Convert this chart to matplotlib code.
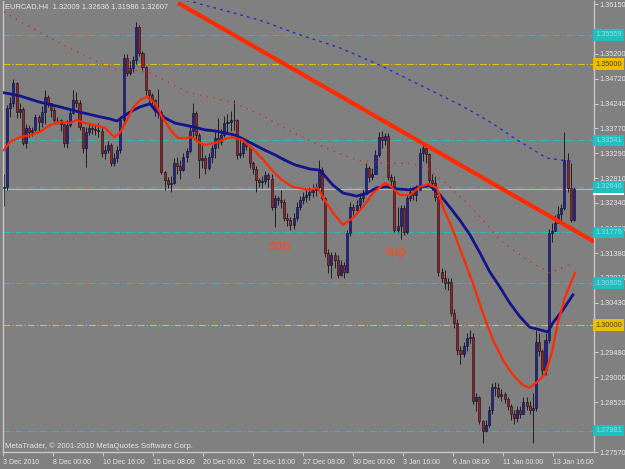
import matplotlib
matplotlib.use('Agg')
import matplotlib.pyplot as plt
import numpy as np

plt.rcParams['font.family'] = ['Liberation Sans', 'DejaVu Sans']

# EURCAD H4 candles
first_open = 1.3262
closes = [1.3265, 1.3415, 1.3425, 1.3464, 1.3408, 1.3413, 1.3349, 1.3378, 1.3370, 1.3374,
          1.3399, 1.3389, 1.3408, 1.3437, 1.3425, 1.3412, 1.3393, 1.3393, 1.3385, 1.3349,
          1.3383, 1.3406, 1.3431, 1.3425, 1.3379, 1.3339, 1.3370, 1.3378, 1.3376, 1.3374,
          1.3372, 1.3330, 1.3335, 1.3345, 1.3311, 1.3320, 1.3335, 1.3393, 1.3512, 1.3483,
          1.3492, 1.3508, 1.3571, 1.3521, 1.3494, 1.3450, 1.3441, 1.3431, 1.3410, 1.3408,
          1.3293, 1.3278, 1.3270, 1.3272, 1.3311, 1.3305, 1.3298, 1.3322, 1.3333, 1.3372,
          1.3406, 1.3364, 1.3316, 1.3320, 1.3301, 1.3322, 1.3339, 1.3358, 1.3350, 1.3364,
          1.3387, 1.3389, 1.3393, 1.3393, 1.3326, 1.3330, 1.3349, 1.3343, 1.3311, 1.3299,
          1.3278, 1.3274, 1.3276, 1.3288, 1.3280, 1.3226, 1.3243, 1.3240, 1.3236, 1.3205,
          1.3201, 1.3192, 1.3205, 1.3226, 1.3240, 1.3245, 1.3249, 1.3255, 1.3258, 1.3265,
          1.3297, 1.3244, 1.3138, 1.3115, 1.3134, 1.3125, 1.3096, 1.3115, 1.3102, 1.3176,
          1.3226, 1.3220, 1.3230, 1.3243, 1.3252, 1.3301, 1.3284, 1.3290, 1.3326, 1.3360,
          1.3355, 1.3362, 1.3284, 1.3276, 1.3182, 1.3190, 1.3224, 1.3178, 1.3243, 1.3255,
          1.3250, 1.3258, 1.3330, 1.3340, 1.3328, 1.3278, 1.3272, 1.3245, 1.3102, 1.3090,
          1.3080, 1.3082, 1.3023, 1.3005, 1.2952, 1.2945, 1.2960, 1.2975, 1.2978, 1.2855,
          1.2862, 1.2816, 1.2797, 1.2808, 1.2838, 1.2882, 1.2880, 1.2864, 1.2868, 1.2858,
          1.2845, 1.2830, 1.2822, 1.2838, 1.2830, 1.2853, 1.2845, 1.2838, 1.2842, 1.2968,
          1.2950, 1.2914, 1.2972, 1.3176, 1.3180, 1.3195, 1.3212, 1.3224, 1.3316, 1.3263,
          1.32009, 1.32607]
highs = [1.3289, 1.3422, 1.3437, 1.3471, 1.3466, 1.3425, 1.3418, 1.3385, 1.3384, 1.3380,
         1.3405, 1.3403, 1.3420, 1.3450, 1.3440, 1.3425, 1.3418, 1.3399, 1.3395, 1.3385,
         1.3393, 1.3412, 1.3450, 1.3446, 1.3431, 1.3380, 1.3380, 1.3386, 1.3384, 1.3386,
         1.3388, 1.3380, 1.3345, 1.3352, 1.3348, 1.3330, 1.3343, 1.3400, 1.3520, 1.3520,
         1.3505, 1.3515, 1.3580, 1.3575, 1.3525, 1.3497, 1.3452, 1.3445, 1.3433, 1.3452,
         1.3412, 1.3295, 1.3283, 1.3285, 1.3320, 1.3322, 1.3316, 1.3330, 1.3340, 1.3380,
         1.3425, 1.3410, 1.3368, 1.3345, 1.3325, 1.3330, 1.3345, 1.3370, 1.3397, 1.3375,
         1.3400, 1.3405, 1.3410, 1.3431, 1.3395, 1.3360, 1.3358, 1.3355, 1.3345, 1.3315,
         1.3305, 1.3282, 1.3285, 1.3295, 1.3292, 1.3290, 1.3250, 1.3248, 1.3258, 1.3242,
         1.3215, 1.3208, 1.3215, 1.3235, 1.3248, 1.3255, 1.3260, 1.3265, 1.3270, 1.3272,
         1.3316, 1.3303, 1.3246, 1.3145, 1.3140, 1.3140, 1.3135, 1.3125, 1.3120, 1.3182,
         1.3236, 1.3232, 1.3240, 1.3250, 1.3260, 1.3310, 1.3305, 1.3300, 1.3335, 1.3370,
         1.3372, 1.3368, 1.3368, 1.3290, 1.3285, 1.3226, 1.3230, 1.3230, 1.3250, 1.3265,
         1.3262, 1.3268, 1.3340, 1.3350, 1.3340, 1.3330, 1.3290, 1.3285, 1.3250, 1.3110,
         1.3105, 1.3090, 1.3090, 1.3030, 1.3012, 1.2960, 1.2968, 1.2985, 1.2990, 1.2985,
         1.2870, 1.2865, 1.2818, 1.2818, 1.2845, 1.2890, 1.2892, 1.2890, 1.2878, 1.2872,
         1.2862, 1.2848, 1.2838, 1.2845, 1.2845, 1.2862, 1.2862, 1.2855, 1.2870, 1.2990,
         1.2985, 1.2955, 1.2985, 1.3185, 1.3195, 1.3210, 1.3228, 1.3232, 1.3370, 1.3330,
         1.3310, 1.32636]
lows = [1.3228, 1.3259, 1.3399, 1.3418, 1.3397, 1.3397, 1.3345, 1.3340, 1.3360, 1.3363,
        1.3372, 1.3370, 1.3380, 1.3385, 1.3418, 1.3399, 1.3390, 1.3385, 1.3372, 1.3342,
        1.3340, 1.3380, 1.3405, 1.3418, 1.3374, 1.3330, 1.3303, 1.3365, 1.3366, 1.3365,
        1.3360, 1.3322, 1.3318, 1.3330, 1.3305, 1.3305, 1.3313, 1.3330, 1.3390, 1.3478,
        1.3480, 1.3485, 1.3500, 1.3515, 1.3488, 1.3440, 1.3425, 1.3418, 1.3400, 1.3397,
        1.3290, 1.3259, 1.3262, 1.3255, 1.3270, 1.3290, 1.3280, 1.3295, 1.3312, 1.3330,
        1.3360, 1.3355, 1.3282, 1.3300, 1.3290, 1.3297, 1.3310, 1.3320, 1.3340, 1.3345,
        1.3360, 1.3370, 1.3372, 1.3374, 1.3318, 1.3320, 1.3322, 1.3335, 1.3300, 1.3290,
        1.3255, 1.3265, 1.3262, 1.3270, 1.3265, 1.3220, 1.3188, 1.3230, 1.3225, 1.3200,
        1.3190, 1.3182, 1.3185, 1.3200, 1.3220, 1.3232, 1.3236, 1.3240, 1.3245, 1.3248,
        1.3260, 1.3240, 1.3130, 1.3100, 1.3090, 1.3110, 1.3090, 1.3095, 1.3090, 1.3100,
        1.3170, 1.3210, 1.3215, 1.3220, 1.3236, 1.3250, 1.3275, 1.3278, 1.3290, 1.3322,
        1.3340, 1.3345, 1.3278, 1.3268, 1.3178, 1.3176, 1.3165, 1.3172, 1.3175, 1.3238,
        1.3240, 1.3238, 1.3262, 1.3315, 1.3310, 1.3272, 1.3258, 1.3238, 1.3095, 1.3082,
        1.3070, 1.3068, 1.3018, 1.2995, 1.2942, 1.2925, 1.2938, 1.2950, 1.2965, 1.2848,
        1.2835, 1.2810, 1.2775, 1.2795, 1.2805, 1.2830, 1.2865, 1.2860, 1.2855, 1.2850,
        1.2838, 1.2818, 1.2810, 1.2815, 1.2822, 1.2830, 1.2838, 1.2830, 1.2775, 1.2835,
        1.2940, 1.2905, 1.2905, 1.2965, 1.3160, 1.3180, 1.3195, 1.3196, 1.3220, 1.3255,
        1.3198, 1.31986]

# moving averages, sampled along the bars
ma_blue_x = [0, 1.9, 5.1, 11.4, 17.8, 24.1, 30.5, 33.7, 35.9, 37.8, 40.0, 43.2, 46.4, 48.0,
             51.1, 54.3, 57.5, 60.7, 63.8, 67.0, 70.2, 73.4, 76.5, 79.7, 82.9, 86.1, 89.2,
             92.4, 97.2, 100.3, 104.5, 107.7, 112.1, 115.3, 118.4, 121.6, 124.8, 128.9,
             132.1, 135.3, 138.5, 141.6, 144.8, 148.0, 151.2, 154.3, 157.5, 160.7, 163.9,
             167.0, 170.2, 172.8, 174.3, 177.5, 180.7]
ma_blue = [1.3445, 1.3443, 1.3439, 1.3427, 1.3418, 1.3408, 1.3399, 1.3395, 1.3391, 1.3399,
           1.3408, 1.3418, 1.3424, 1.3412, 1.3397, 1.3387, 1.3383, 1.3379, 1.3374, 1.3372,
           1.3368, 1.3364, 1.3355, 1.3345, 1.3335, 1.3326, 1.3316, 1.3307, 1.3299, 1.3297,
           1.3268, 1.3253, 1.3247, 1.3253, 1.3263, 1.3265, 1.3261, 1.3259, 1.3265, 1.3267,
           1.3249, 1.3226, 1.3201, 1.3173, 1.3138, 1.3102, 1.3073, 1.3042, 1.3016, 1.2996,
           1.2991, 1.2987, 1.3004, 1.3029, 1.3058]

ma_red_x = [0, 1.9, 5.1, 8.3, 11.4, 14.6, 17.8, 21.0, 23.2, 25.7, 28.9, 32.1, 33.7, 35.2,
            36.8, 39.1, 41.0, 43.2, 45.4, 48.0, 50.2, 53.4, 55.3, 57.5, 59.7, 61.6, 63.8,
            67.0, 70.2, 72.4, 75.6, 78.8, 81.9, 85.1, 88.3, 91.5, 97.2, 99.7, 101.3, 104.5,
            107.7, 110.8, 114.0, 117.2, 121.0, 122.6, 125.8, 128.9, 132.1, 134.6, 137.5,
            139.4, 142.6, 145.8, 148.9, 152.1, 155.3, 158.5, 161.6, 164.8, 167.0, 169.3,
            171.8, 174.0, 175.9, 178.1, 181.3]
ma_red = [1.3335, 1.3351, 1.3360, 1.3364, 1.3370, 1.3383, 1.3389, 1.3387, 1.3393, 1.3387,
          1.3383, 1.3378, 1.3368, 1.3360, 1.3368, 1.3393, 1.3416, 1.3431, 1.3437, 1.3425,
          1.3399, 1.3370, 1.3358, 1.3358, 1.3360, 1.3351, 1.3345, 1.3349, 1.3356, 1.3360,
          1.3355, 1.3339, 1.3320, 1.3297, 1.3278, 1.3265, 1.3259, 1.3263, 1.3245, 1.3215,
          1.3192, 1.3205, 1.3226, 1.3253, 1.3272, 1.3267, 1.3249, 1.3249, 1.3265, 1.3270,
          1.3263, 1.3226, 1.3182, 1.3131, 1.3081, 1.3023, 1.2972, 1.2933, 1.2905, 1.2885,
          1.2880, 1.2891, 1.2905, 1.2947, 1.3004, 1.3052, 1.3100]

ma_slow_red_x = [0, 5.1, 11.4, 17.8, 24.1, 30.5, 35.9, 41.0, 46.4, 58.4, 72.4, 81.9, 91.5,
                 101.3, 112.1, 120.4, 128.9, 134.3, 141.6, 150.2, 157.5, 166.1, 173.4, 180.7]
ma_slow_red = [1.3600, 1.3582, 1.3561, 1.3540, 1.3521, 1.3502, 1.3489, 1.3489, 1.3483,
               1.3446, 1.3427, 1.3402, 1.3370, 1.3341, 1.3316, 1.3310, 1.3310, 1.3301,
               1.3265, 1.3215, 1.3163, 1.3125, 1.3100, 1.3119]

ma_slow_blue_x = [58.0, 68.6, 81.3, 94.0, 106.7, 119.4, 132.1, 144.8, 153.4, 162.9, 172.4, 180.7]
ma_slow_blue = [1.3622, 1.3605, 1.3584, 1.3556, 1.3531, 1.3498, 1.3460, 1.3422, 1.3393,
                1.3355, 1.3320, 1.3313]

trend_x = [55.3, 187.4]
trend_y = [1.3617, 1.3160]

cyan_levels = [1.35559, 1.33541, 1.32646, 1.31779, 1.30805, 1.27981]
gold_levels = [1.35000, 1.30000]
bid = 1.32607

price_ticks = ['1.36150', '1.35200', '1.34720', '1.34240', '1.33770', '1.33290', '1.32810',
               '1.32340', '1.31860', '1.31380', '1.30910', '1.30430', '1.29480', '1.29000',
               '1.28520', '1.27570']
date_labels = ['3 Dec 2010', '8 Dec 00:00', '10 Dec 16:00', '15 Dec 08:00', '20 Dec 00:00',
               '22 Dec 16:00', '27 Dec 08:00', '30 Dec 00:00', '3 Jan 16:00', '6 Jan 08:00',
               '11 Jan 00:00', '13 Jan 16:00']

bg = '#808080'
fg = '#e6e6e6'
cyan = '#20c0c0'
gold = '#e8c000'

fig = plt.figure(figsize=(6.25, 4.69), dpi=100, facecolor=bg)
ax = fig.add_axes([3 / 625, 17 / 469, 591 / 625, 451 / 469])
ax.set_facecolor(bg)

x = np.arange(len(closes))
opens = np.array([first_open] + closes[:-1])
c = np.array(closes)
up = c >= opens

# wicks and bodies
ax.vlines(x, lows, highs, color='#1e1e1e', lw=0.7, zorder=2)
ax.bar(x[up], c[up] - opens[up], bottom=opens[up], width=0.65,
       color='#2222a8', edgecolor='#101010', lw=0.4, zorder=3)
ax.bar(x[~up], opens[~up] - c[~up], bottom=c[~up], width=0.65,
       color='#a0202a', edgecolor='#101010', lw=0.4, zorder=3)

# horizontal levels
for lv in cyan_levels:
    ax.axhline(lv, color=cyan, lw=0.8, dashes=(6, 2, 1, 2), zorder=1)
for lv in gold_levels:
    ax.axhline(lv, color=gold, lw=0.8, dashes=(6, 2, 1, 2), zorder=1)
ax.axhline(bid, color='#b8b8b8', lw=0.8, zorder=1)

# indicators
ax.plot(ma_slow_blue_x, ma_slow_blue, color='#2a2ad0', lw=1, ls=(0, (2, 3)), zorder=4)
ax.plot(ma_slow_red_x, ma_slow_red, color='#e02a10', lw=1, ls=(0, (1, 4)), zorder=4)
ax.plot(ma_blue_x, ma_blue, color='#14148c', lw=2, zorder=5)
ax.plot(ma_red_x, ma_red, color='#ff2a00', lw=1.6, zorder=5)
ax.plot(trend_x, trend_y, color='#ff2a00', lw=3, solid_capstyle='butt', zorder=6)

for xs, ys in [(87.6, 1.3152), (124.5, 1.3140)]:
    ax.text(xs, ys, 'sup', color='#ff4a1a', fontsize=10, ha='center', va='center')

ax.set_xlim(-0.3, 187.4)
ax.set_ylim(1.2757, 1.36208)

# price axis on the right
ax.yaxis.tick_right()
ax.set_yticks([float(t) for t in price_ticks])
ax.set_yticklabels(price_ticks)
ax.tick_params(axis='y', colors='#c8c8c8', labelcolor=fg, labelsize=5.3,
               length=3, width=0.8, pad=1)
ax.set_xticks(np.arange(len(date_labels)) * 15.88 - 0.3)
ax.set_xticklabels(date_labels, ha='left')
ax.tick_params(axis='x', colors='#c8c8c8', labelcolor=fg, labelsize=5.0,
               length=3, width=0.8, pad=2)

for s in ['left', 'right', 'bottom']:
    ax.spines[s].set_color('#c8c8c8')
    ax.spines[s].set_linewidth(1)
ax.spines['top'].set_visible(False)

# bid label, mostly hidden behind the 1.32646 box
ax.text(1.002, bid, f'{bid:.5f}', transform=ax.get_yaxis_transform(), fontsize=5.3,
        color='#808080', va='center', ha='left', zorder=9,
        bbox=dict(boxstyle='square,pad=0.3', fc='white', ec='none'))

# boxed labels of the level lines
for lv in cyan_levels:
    ax.text(1.002, lv, f'{lv:.5f}', transform=ax.get_yaxis_transform(), fontsize=5.3,
            color='#9ad8d8', va='center', ha='left', zorder=10,
            bbox=dict(boxstyle='square,pad=0.3', fc=cyan, ec='none'))
for lv in gold_levels:
    ax.text(1.002, lv, f'{lv:.5f}', transform=ax.get_yaxis_transform(), fontsize=5.3,
            color='#404040', va='center', ha='left', zorder=10,
            bbox=dict(boxstyle='square,pad=0.3', fc=gold, ec='none'))

fig.text(5 / 625, 1 - 7 / 469, 'EURCAD,H4  1.32009 1.32636 1.31986 1.32607',
         color=fg, fontsize=5.4, va='center', ha='left')
fig.text(5 / 625, 1 - 446 / 469, 'MetaTrader, © 2001-2010 MetaQuotes Software Corp.',
         color=fg, fontsize=5.6, va='center', ha='left')

fig.savefig('out.png', dpi=100, facecolor=bg)
